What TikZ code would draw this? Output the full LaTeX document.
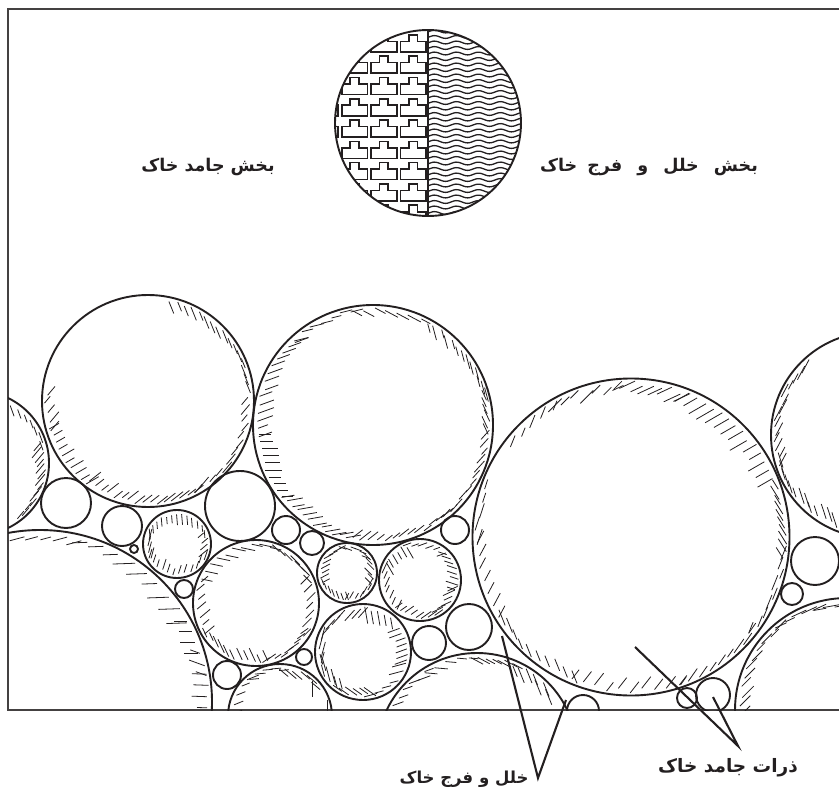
\documentclass[tikz,border=0pt]{standalone}
\usepackage{fontspec}
\TeXXeTstate=1
\newfontfamily\arabicfont[Script=Arabic]{DejaVu Sans}
\definecolor{ink}{HTML}{231F20}
\tikzset{
  grain/.style={draw=ink,line width=1.9pt},
  hatchtick/.style={draw=ink,line width=0.8pt},
  framing/.style={draw=ink!85,line width=2.1pt},
  brick/.style={draw=ink,line width=1.6pt,line join=miter},
  wavy/.style={draw=ink,line width=1.3pt},
  leader/.style={draw=ink,line width=2.1pt},
  caption/.style={font=\arabicfont\bfseries,text=ink,inner sep=0pt}
}
\newcommand\hatcharc[8]{%
  \foreach \hI in {0,...,#6}{%
    \pgfmathsetmacro\hA{#4+(#5-#4)*\hI/#6}%
    \pgfmathsetmacro\hL{#8*(1.1+0.8*rnd)}%
    \pgfmathsetmacro\hR{#3-2.5-0.5*\hL*abs(cos(#7-\hA))-0.5*#8*rnd}%
    \draw[hatchtick] ({#1+\hR*cos(\hA)-0.5*\hL*cos(#7)},{#2+\hR*sin(\hA)-0.5*\hL*sin(#7)})
      -- ({#1+\hR*cos(\hA)+0.5*\hL*cos(#7)},{#2+\hR*sin(\hA)+0.5*\hL*sin(#7)});
  }%
}
\begin{document}
\begin{tikzpicture}[x=1pt,y=-1pt]
\useasboundingbox (0,0) rectangle (839,795);
\pgfmathsetseed{11}
% frame
\draw[framing] (839,9) -- (8,9) -- (8,710) -- (839,710);
% phase circle
\begin{scope}
  \clip (428,123) circle[radius=93];
  \begin{scope}
    \clip (330,20) rectangle (428,230);
    \foreach \tx in {312.4,341.7,371,400.3}{
      \foreach \ty in {20,41.3,62.6,83.9,105.2,126.5,147.8,169.1,190.4,211.7,233}{
        \draw[brick] (\tx,\ty) -- ++(8.5,0) -- ++(0,-6.5) -- ++(8.5,0) -- ++(0,6.5) -- ++(8.8,0) -- ++(0,10.5) -- ++(-25.8,0) -- cycle;
      }
    }
  \end{scope}
  \foreach \wy in {26,31.5,...,224}{
    \draw[wavy] plot[samples=50,domain=428:525] (\x,{\wy+1.4*sin(\x*16.3636)});
  }
\end{scope}
\draw[grain] (428,123) circle[radius=93];
\draw[draw=ink,line width=2.8pt] (428,30) -- (428,216);
% soil
\begin{scope}
  \clip (8,9) rectangle (839,710);
  \foreach \px/\py/\gr in {-23/463/72,148/401/106,373/425/120,631/537/158.5,874/435/103,
    40/702/172,66/503/25,122/526/20,177/544/34,240/506/35,134/549/4,184/589/9,
    256/603/63,286/530/14,312/543/12,347/573/30,420/580/41,363/652/48,304/657/8,
    227/675/14,280/716/52,455/530/14,469/627/23,429/643/17,477/753/100,583/711/16,
    687/698/10,713/695/17,847/710/112,792/594/11,815/561/24}{
    \draw[grain] (\px,\py) circle[radius=\gr];
  }
  % A
  \hatcharc{-23}{463}{72}{-56}{-15}{6}{70}{7}
  \hatcharc{-23}{463}{72}{-15}{50}{13}{-50}{8}
  % B
  \hatcharc{148}{401}{106}{-76}{-8}{15}{68}{8}
  \hatcharc{148}{401}{106}{0}{60}{12}{-50}{8}
  \hatcharc{148}{401}{106}{60}{125}{15}{-38}{8}
  \hatcharc{148}{401}{106}{125}{165}{9}{-30}{8}
  \hatcharc{148}{401}{106}{165}{186}{4}{-50}{8}
  % C
  \hatcharc{373}{425}{120}{100}{140}{11}{-10}{9}
  \hatcharc{373}{425}{120}{140}{175}{9}{0}{9}
  \hatcharc{373}{425}{120}{175}{230}{13}{-20}{9}
  \hatcharc{373}{425}{120}{230}{262}{6}{-14}{9}
  \hatcharc{373}{425}{120}{262}{297}{6}{28}{8}
  \hatcharc{373}{425}{120}{300}{345}{12}{75}{8}
  \hatcharc{373}{425}{120}{345}{362}{5}{65}{8}
  \hatcharc{373}{425}{120}{5}{50}{11}{-48}{8}
  \hatcharc{373}{425}{120}{50}{98}{12}{-38}{8}
  % D
  \hatcharc{631}{537}{158.5}{219}{240}{4}{-68}{8}
  \hatcharc{631}{537}{158.5}{240}{265}{6}{-45}{10}
  \hatcharc{631}{537}{158.5}{265}{290}{7}{-25}{10}
  \hatcharc{631}{537}{158.5}{290}{338}{13}{-30}{11}
  \hatcharc{631}{537}{158.5}{340}{366}{9}{58}{9}
  \hatcharc{631}{537}{158.5}{6}{37}{8}{-68}{9}
  \hatcharc{631}{537}{158.5}{37}{70}{8}{-55}{9}
  \hatcharc{631}{537}{158.5}{70}{112}{9}{-52}{9}
  \hatcharc{631}{537}{158.5}{112}{148}{9}{68}{9}
  \hatcharc{631}{537}{158.5}{150}{180}{6}{-62}{9}
  \hatcharc{631}{537}{158.5}{180}{200}{4}{-72}{9}
  % E
  \hatcharc{874}{435}{103}{165}{225}{13}{-62}{9}
  \hatcharc{874}{435}{103}{115}{165}{12}{72}{9}
  % F
  \hatcharc{40}{702}{172}{262}{282}{4}{-15}{9}
  \hatcharc{40}{702}{172}{284}{330}{8}{-2}{12}
  \hatcharc{40}{702}{172}{330}{342}{3}{0}{9}
  \hatcharc{40}{702}{172}{342}{350}{2}{20}{9}
  \hatcharc{40}{702}{172}{350}{362}{3}{2}{9}
  % I
  \hatcharc{177}{544}{34}{200}{340}{12}{85}{6}
  \hatcharc{177}{544}{34}{340}{380}{3}{-40}{6}
  \hatcharc{177}{544}{34}{20}{160}{11}{-72}{6}
  \hatcharc{177}{544}{34}{160}{200}{3}{-75}{6}
  % M
  \hatcharc{256}{603}{63}{-70}{-25}{6}{45}{8}
  \hatcharc{256}{603}{63}{-25}{30}{6}{-45}{8}
  \hatcharc{256}{603}{63}{30}{80}{8}{-35}{7}
  \hatcharc{256}{603}{63}{80}{150}{10}{65}{8}
  \hatcharc{256}{603}{63}{150}{205}{6}{-40}{7}
  \hatcharc{256}{603}{63}{205}{290}{9}{12}{8}
  % P
  \hatcharc{347}{573}{30}{-100}{-40}{5}{20}{5}
  \hatcharc{347}{573}{30}{-40}{20}{5}{45}{6}
  \hatcharc{347}{573}{30}{20}{90}{6}{-60}{5}
  \hatcharc{347}{573}{30}{90}{160}{6}{70}{5}
  \hatcharc{347}{573}{30}{160}{260}{8}{-28}{6}
  % Q
  \hatcharc{420}{580}{41}{-110}{-50}{5}{-20}{6}
  \hatcharc{420}{580}{41}{-50}{15}{7}{18}{7}
  \hatcharc{420}{580}{41}{15}{60}{5}{-25}{7}
  \hatcharc{420}{580}{41}{60}{130}{7}{-35}{7}
  \hatcharc{420}{580}{41}{130}{200}{6}{-65}{7}
  \hatcharc{420}{580}{41}{200}{250}{5}{60}{7}
  % R
  \hatcharc{363}{652}{48}{210}{270}{6}{-48}{8}
  \hatcharc{363}{652}{48}{275}{315}{4}{80}{10}
  \hatcharc{363}{652}{48}{325}{375}{6}{-20}{7}
  \hatcharc{363}{652}{48}{20}{80}{5}{-15}{8}
  \hatcharc{363}{652}{48}{80}{125}{5}{35}{8}
  \hatcharc{363}{652}{48}{125}{170}{6}{75}{9}
  \hatcharc{363}{652}{48}{172}{205}{3}{-75}{9}
  % U
  \hatcharc{280}{716}{52}{185}{235}{4}{-22}{7}
  \hatcharc{280}{716}{52}{235}{275}{4}{-5}{7}
  \hatcharc{280}{716}{52}{275}{320}{5}{40}{8}
  \hatcharc{280}{716}{52}{320}{350}{1}{90}{9}
  % Y
  \hatcharc{477}{753}{100}{212}{240}{5}{-20}{8}
  \hatcharc{477}{753}{100}{240}{268}{4}{5}{8}
  \hatcharc{477}{753}{100}{270}{295}{6}{28}{8}
  \hatcharc{477}{753}{100}{295}{322}{6}{68}{9}
  % AC
  \hatcharc{847}{710}{112}{180}{232}{10}{-45}{9}
  \hatcharc{847}{710}{112}{232}{255}{4}{-25}{9}
  \hatcharc{847}{710}{112}{255}{275}{3}{-10}{10}
\end{scope}
% labels
\node[caption,font=\arabicfont\bfseries\fontsize{17.5}{20}\selectfont] (solidpart) at (208,167) {\beginR بخش جامد خاک\endR};
\node[caption,font=\arabicfont\bfseries\fontsize{17.5}{20}\selectfont] (voidpart) at (649,167) {\beginR بخش\hspace{9pt} خلل\hspace{9pt} و\hspace{9pt} فرج\hspace{4pt} خاک\endR};
\node[caption,font=\arabicfont\bfseries\fontsize{16.5}{19}\selectfont] (voidlabel) at (464,779) {\beginR خلل و فرج خاک\endR};
\node[caption,font=\arabicfont\bfseries\fontsize{18.5}{21}\selectfont] (grainlabel) at (728,768) {\beginR ذرات جامد خاک\endR};
% leaders
\coordinate (voidapex) at (538,778);
\coordinate (voidA) at (502,636);
\coordinate (voidB) at (566,700);
\coordinate (grainapex) at (738,746);
\coordinate (grainA) at (635,647);
\coordinate (grainB) at (713,697);
\draw[leader,line join=miter] (voidA) -- (voidapex) -- (voidB);
\draw[leader,line join=miter] (grainA) -- (grainapex) -- (grainB);
\end{tikzpicture}
\end{document}
